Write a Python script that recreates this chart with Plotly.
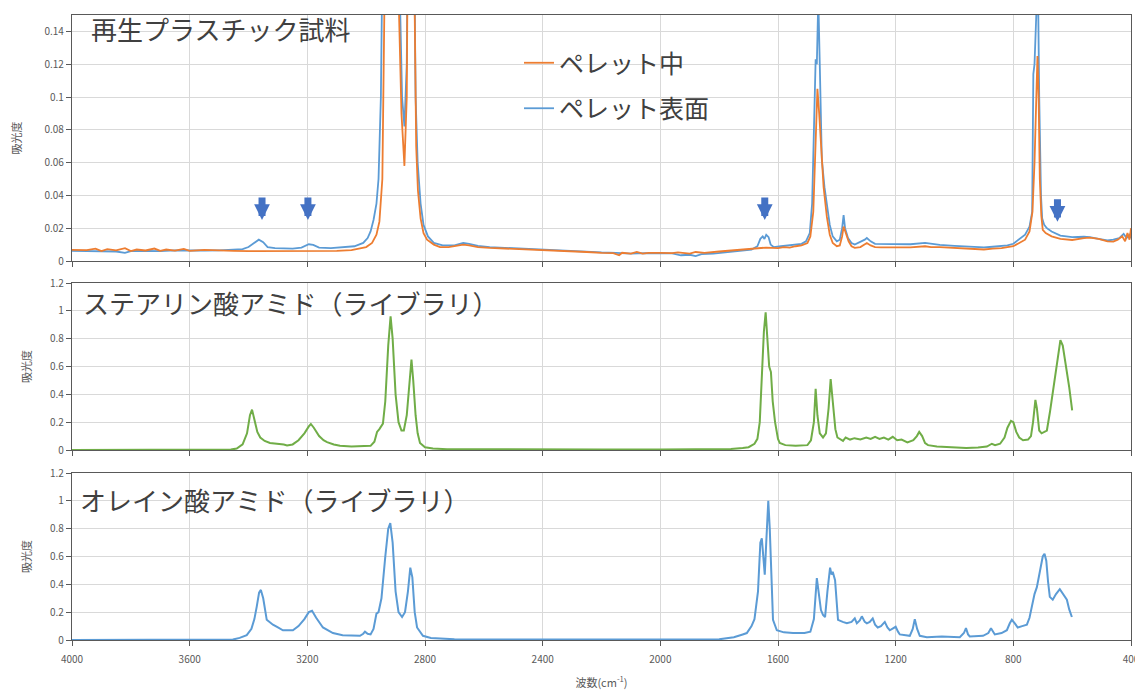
import plotly.graph_objects as go
from plotly.subplots import make_subplots

# ---------------- data (wavenumber cm-1, absorbance) ----------------
orange_wn = [4000, 3950, 3920, 3900, 3880, 3850, 3820, 3800, 3780, 3750, 3720, 3700, 3680, 3650, 3620, 3600,
             3550, 3500, 3450, 3400, 3350, 3300, 3250, 3200, 3150, 3100, 3050, 3020, 3000, 2980, 2965, 2955,
             2945, 2935, 2925, 2910, 2895, 2880, 2870, 2862, 2855, 2848, 2838, 2830, 2824, 2815, 2805, 2793,
             2770, 2749, 2720, 2690, 2670, 2650, 2620, 2580, 2550, 2500, 2450, 2400, 2350, 2300, 2250, 2200,
             2160, 2140, 2130, 2100, 2080, 2060, 2040, 2000, 1960, 1940, 1900, 1880, 1850, 1800, 1760, 1720,
             1700, 1680, 1660, 1640, 1620, 1600, 1580, 1560, 1540, 1520, 1500, 1490, 1480, 1472, 1466, 1460,
             1452, 1445, 1434, 1424, 1414, 1400, 1390, 1382, 1377, 1370, 1360, 1350, 1339, 1320, 1305, 1298,
             1285, 1270, 1250, 1200, 1150, 1100, 1080, 1050, 1000, 960, 930, 900, 870, 840, 820, 800, 780,
             760, 745, 735, 728, 722, 718, 714, 710, 705, 700, 690, 670, 640, 600, 560, 540, 510, 480, 460,
             445, 430, 420, 412, 405, 400]
orange_abs = [0.0068, 0.0066, 0.0075, 0.006, 0.0072, 0.0065, 0.0078, 0.006, 0.007, 0.0064, 0.0076, 0.0062, 0.007,
              0.0063, 0.0074, 0.0062, 0.0068, 0.0063, 0.0062, 0.006, 0.006, 0.006, 0.0058, 0.006, 0.006, 0.0062,
              0.0066, 0.0075, 0.0085, 0.011, 0.016, 0.024, 0.05, 0.2, 0.5, 0.4, 0.2, 0.09, 0.058, 0.1, 0.3, 0.4,
              0.2, 0.07, 0.043, 0.026, 0.017, 0.013, 0.01, 0.0085, 0.0085, 0.0095, 0.01, 0.0095, 0.0085, 0.008,
              0.0078, 0.0075, 0.007, 0.0068, 0.0065, 0.006, 0.0055, 0.005, 0.0048, 0.0035, 0.005, 0.0045, 0.0055,
              0.0045, 0.005, 0.005, 0.0048, 0.0052, 0.0045, 0.0055, 0.005, 0.0058, 0.0065, 0.007, 0.0072, 0.0075,
              0.0078, 0.0082, 0.008, 0.0078, 0.0085, 0.0082, 0.009, 0.0095, 0.011, 0.015, 0.03, 0.08, 0.105, 0.09,
              0.065, 0.045, 0.027, 0.016, 0.011, 0.009, 0.0095, 0.015, 0.021, 0.017, 0.012, 0.009, 0.008, 0.0085,
              0.0105, 0.011, 0.0095, 0.0085, 0.0083, 0.0082, 0.0083, 0.009, 0.0085, 0.0085, 0.008, 0.0078, 0.0072,
              0.007, 0.0075, 0.0078, 0.0085, 0.009, 0.011, 0.013, 0.018, 0.03, 0.06, 0.11, 0.125, 0.1, 0.05, 0.028,
              0.019, 0.017, 0.015, 0.0135, 0.0128, 0.014, 0.0143, 0.0135, 0.012, 0.0118, 0.013, 0.015, 0.012,
              0.017, 0.013, 0.02]

blue_wn = [4000, 3950, 3900, 3850, 3820, 3800, 3750, 3700, 3650, 3600, 3550, 3500, 3450, 3420, 3400, 3385, 3365,
           3350, 3335, 3310, 3280, 3250, 3220, 3195, 3180, 3160, 3120, 3080, 3040, 3010, 2995, 2985, 2975, 2965,
           2958, 2950, 2940, 2925, 2905, 2890, 2878, 2870, 2862, 2852, 2842, 2832, 2825, 2815, 2805, 2790, 2770,
           2740, 2700, 2670, 2650, 2620, 2580, 2500, 2400, 2300, 2200, 2150, 2100, 2050, 2000, 1960, 1930, 1900,
           1880, 1860, 1820, 1790, 1760, 1720, 1690, 1670, 1660, 1652, 1646, 1640, 1632, 1625, 1615, 1590, 1560,
           1540, 1520, 1505, 1492, 1484, 1476, 1472, 1468, 1463, 1458, 1451, 1442, 1434, 1424, 1414, 1400, 1390,
           1382, 1377, 1372, 1362, 1350, 1339, 1320, 1305, 1298, 1285, 1270, 1250, 1200, 1150, 1100, 1080, 1050,
           1000, 960, 930, 900, 870, 840, 820, 800, 780, 760, 745, 736, 732, 728, 722, 717, 712, 706, 702, 695,
           686, 670, 640, 600, 560, 540, 510, 480, 460, 440, 425, 415, 405, 400]
blue_abs = [0.0062, 0.006, 0.0062, 0.0058, 0.005, 0.006, 0.0062, 0.006, 0.0065, 0.0063, 0.0064, 0.0065, 0.0067,
            0.0072, 0.0085, 0.0105, 0.013, 0.0115, 0.0085, 0.0078, 0.0075, 0.0075, 0.0082, 0.0102, 0.0098, 0.0082,
            0.0078, 0.0082, 0.009, 0.011, 0.014, 0.018, 0.025, 0.035, 0.05, 0.1, 0.3, 0.5, 0.4, 0.2, 0.1, 0.082,
            0.12, 0.35, 0.3, 0.1, 0.06, 0.035, 0.022, 0.015, 0.011, 0.0095, 0.0095, 0.011, 0.0105, 0.0092, 0.0085,
            0.0078, 0.0068, 0.006, 0.0052, 0.005, 0.0045, 0.0048, 0.0048, 0.0046, 0.0035, 0.0038, 0.003, 0.0042,
            0.0045, 0.005, 0.0058, 0.0065, 0.007, 0.009, 0.0135, 0.015, 0.0135, 0.016, 0.0145, 0.01, 0.0085, 0.009,
            0.0095, 0.01, 0.0105, 0.012, 0.017, 0.035, 0.1, 0.123, 0.12, 0.16, 0.12, 0.062, 0.045, 0.035, 0.022,
            0.015, 0.012, 0.013, 0.02, 0.028, 0.02, 0.014, 0.011, 0.01, 0.0115, 0.013, 0.014, 0.012, 0.0105,
            0.0105, 0.0102, 0.0102, 0.011, 0.0105, 0.0098, 0.0092, 0.009, 0.0085, 0.0083, 0.0087, 0.009, 0.0095,
            0.0105, 0.013, 0.016, 0.021, 0.03, 0.114, 0.12, 0.15, 0.18, 0.1, 0.04, 0.026, 0.022, 0.02, 0.018,
            0.0155, 0.0145, 0.0148, 0.0145, 0.0135, 0.0125, 0.013, 0.014, 0.0165, 0.014, 0.016, 0.014]

stear_wn = [4000, 3800, 3600, 3480, 3460, 3440, 3420, 3405, 3395, 3388, 3380, 3370, 3360, 3345, 3327, 3300, 3280,
            3269, 3250, 3230, 3210, 3195, 3188, 3178, 3160, 3145, 3133, 3110, 3089, 3050, 3000, 2985, 2972, 2963,
            2955, 2943, 2935, 2925, 2917, 2910, 2900, 2890, 2880, 2872, 2862, 2852, 2846, 2840, 2832, 2825, 2817,
            2800, 2773, 2725, 2600, 2400, 2200, 2000, 1800, 1760, 1720, 1700, 1680, 1670, 1662, 1655, 1648, 1642,
            1636, 1630, 1624, 1618, 1610, 1600, 1594, 1575, 1540, 1500, 1488, 1478, 1472, 1466, 1458, 1447, 1437,
            1428, 1421, 1414, 1405, 1398, 1390, 1379, 1370, 1355, 1340, 1320, 1300, 1285, 1270, 1255, 1240, 1225,
            1210, 1195, 1180, 1160, 1140, 1128, 1120, 1110, 1100, 1090, 1060, 1000, 960, 920, 890, 873, 862, 845,
            830, 820, 808, 800, 790, 780, 767, 750, 740, 733, 725, 720, 712, 704, 695, 686, 675, 665, 652, 640,
            632, 620, 610, 600]
stear_abs = [0, 0, 0, 0, 0.003, 0.01, 0.04, 0.12, 0.25, 0.29, 0.22, 0.13, 0.09, 0.065, 0.05, 0.045, 0.04, 0.033,
             0.04, 0.07, 0.12, 0.17, 0.187, 0.16, 0.1, 0.07, 0.057, 0.04, 0.03, 0.025, 0.025, 0.03, 0.06, 0.13,
             0.15, 0.19, 0.35, 0.75, 0.96, 0.8, 0.4, 0.2, 0.14, 0.14, 0.25, 0.5, 0.65, 0.5, 0.25, 0.12, 0.05, 0.02,
             0.01, 0.006, 0.004, 0.004, 0.003, 0.003, 0.004, 0.008, 0.015, 0.02, 0.045, 0.08, 0.2, 0.5, 0.85, 0.99,
             0.8, 0.6, 0.56, 0.35, 0.2, 0.08, 0.05, 0.035, 0.03, 0.035, 0.07, 0.2, 0.44, 0.25, 0.12, 0.09, 0.12,
             0.3, 0.51, 0.35, 0.15, 0.09, 0.08, 0.065, 0.09, 0.075, 0.085, 0.075, 0.09, 0.08, 0.095, 0.08, 0.09,
             0.075, 0.095, 0.07, 0.075, 0.055, 0.07, 0.1, 0.13, 0.1, 0.05, 0.035, 0.025, 0.02, 0.015, 0.018, 0.025,
             0.045, 0.035, 0.045, 0.09, 0.16, 0.21, 0.2, 0.13, 0.09, 0.07, 0.075, 0.1, 0.2, 0.36, 0.3, 0.14, 0.12,
             0.13, 0.14, 0.28, 0.43, 0.62, 0.79, 0.75, 0.6, 0.45, 0.285]

oleo_wn = [4000, 3600, 3470, 3453, 3430, 3406, 3390, 3380, 3372, 3364, 3358, 3350, 3338, 3317, 3300, 3283, 3249,
           3230, 3210, 3195, 3184, 3170, 3147, 3113, 3080, 3040, 3021, 3010, 3004, 2995, 2985, 2975, 2965, 2958,
           2948, 2935, 2925, 2918, 2910, 2900, 2890, 2878, 2868, 2858, 2850, 2843, 2835, 2827, 2807, 2780, 2749,
           2700, 2500, 2300, 2100, 1900, 1800, 1750, 1720, 1706, 1690, 1680, 1668, 1660, 1655, 1648, 1645, 1640,
           1633, 1628, 1622, 1617, 1604, 1580, 1549, 1510, 1490, 1478, 1468, 1460, 1454, 1447, 1440, 1432, 1423,
           1418, 1414, 1406, 1400, 1396, 1380, 1366, 1350, 1339, 1332, 1322, 1315, 1305, 1298, 1288, 1278, 1270,
           1261, 1250, 1237, 1228, 1220, 1210, 1200, 1192, 1186, 1152, 1142, 1135, 1127, 1118, 1094, 1043, 982,
           968, 961, 954, 948, 903, 885, 876, 868, 863, 840, 822, 812, 805, 795, 785, 770, 754, 745, 737, 728,
           720, 710, 700, 694, 688, 682, 676, 666, 655, 642, 630, 618, 610, 601]
oleo_abs = [0, 0, 0, 0.003, 0.015, 0.035, 0.08, 0.15, 0.24, 0.34, 0.36, 0.3, 0.145, 0.11, 0.09, 0.07, 0.07, 0.1,
            0.15, 0.2, 0.21, 0.16, 0.09, 0.05, 0.035, 0.03, 0.03, 0.045, 0.06, 0.045, 0.04, 0.08, 0.19, 0.2, 0.3,
            0.6, 0.8, 0.84, 0.7, 0.35, 0.2, 0.165, 0.2, 0.35, 0.52, 0.45, 0.2, 0.09, 0.03, 0.015, 0.01, 0.005,
            0.003, 0.002, 0.002, 0.003, 0.005, 0.02, 0.04, 0.05, 0.1, 0.15, 0.35, 0.7, 0.73, 0.5, 0.47, 0.7, 1.0,
            0.8, 0.4, 0.145, 0.07, 0.055, 0.05, 0.05, 0.06, 0.15, 0.445, 0.3, 0.215, 0.18, 0.165, 0.35, 0.52,
            0.47, 0.49, 0.43, 0.25, 0.145, 0.13, 0.12, 0.13, 0.155, 0.12, 0.14, 0.17, 0.13, 0.12, 0.13, 0.155,
            0.11, 0.09, 0.1, 0.13, 0.09, 0.07, 0.08, 0.095, 0.06, 0.04, 0.03, 0.08, 0.15, 0.08, 0.03, 0.02, 0.025,
            0.02, 0.05, 0.085, 0.04, 0.025, 0.03, 0.05, 0.085, 0.05, 0.04, 0.05, 0.07, 0.12, 0.145, 0.12, 0.09,
            0.1, 0.11, 0.16, 0.24, 0.33, 0.38, 0.5, 0.6, 0.62, 0.57, 0.42, 0.31, 0.29, 0.33, 0.365, 0.33, 0.29,
            0.22, 0.165]

# arrows marking the additive bands in the top panel (wavenumber, absorbance at tip)
arrow_wn = [3354, 3198, 1645, 650]
arrow_y = [0.025, 0.025, 0.025, 0.024]

x_ticks = [4000, 3600, 3200, 2800, 2400, 2000, 1600, 1200, 800, 400]
panel_titles = ["再生プラスチック試料", "ステアリン酸アミド（ライブラリ）", "オレイン酸アミド（ライブラリ）"]
series_names = ["ペレット表面", "ペレット中"]

# ---------------- figure ----------------
FONT = "Noto Sans CJK JP"
C_ORANGE = "#ED7D31"
C_BLUE = "#5B9BD5"
C_GREEN = "#70AD47"
GRID = "#D9D9D9"
AXIS = "#595959"

# page body has an 8px margin; work in screen pixels and convert
OFF = 8
W, H = 1135, 682
PL, PR, PT, PB = 72, 1131, 15, 640  # plot-area edges in screen pixels
ML, MR, MT, MB = PL - OFF, W - (PR - OFF), PT - OFF, H - (PB - OFF)
pw = W - ML - MR
ph = H - MT - MB


def px_x(sx):
    return (sx - OFF - ML) / pw


def px_y(sy):
    return (H - MB - (sy - OFF)) / ph


fig = make_subplots(rows=3, cols=1, shared_xaxes=True, vertical_spacing=0.05)

fig.add_trace(go.Scatter(x=blue_wn, y=blue_abs, mode="lines", name=series_names[0],
                         line=dict(color=C_BLUE, width=1.8), legendgroup="b", legendrank=2), row=1, col=1)
fig.add_trace(go.Scatter(x=orange_wn, y=orange_abs, mode="lines", name=series_names[1],
                         line=dict(color=C_ORANGE, width=1.8), legendgroup="a", legendrank=1), row=1, col=1)
fig.add_trace(go.Scatter(x=stear_wn, y=stear_abs, mode="lines", showlegend=False,
                         line=dict(color=C_GREEN, width=2)), row=2, col=1)
fig.add_trace(go.Scatter(x=oleo_wn, y=oleo_abs, mode="lines", showlegend=False,
                         line=dict(color=C_BLUE, width=2)), row=3, col=1)

domains = [[px_y(261), px_y(15)], [px_y(450), px_y(283)], [px_y(640), px_y(473)]]
yranges = [[0, 0.15], [0, 1.2], [0, 1.2]]
ydticks = [0.02, 0.2, 0.2]
ystandoffs = [20, 16, 16]

for i in range(3):
    yname = "yaxis" if i == 0 else f"yaxis{i + 1}"
    xname = "xaxis" if i == 0 else f"xaxis{i + 1}"
    fig.layout[yname].update(
        domain=domains[i], range=yranges[i], dtick=ydticks[i], tick0=0, automargin=False,
        showgrid=True, gridcolor=GRID, gridwidth=1, zeroline=False,
        showline=True, mirror=True, linecolor=AXIS, linewidth=1.3,
        ticks="outside", ticklen=5, tickcolor=AXIS,
        tickfont=dict(family=FONT, size=10, color="#595959"),
        title=dict(text="吸光度", font=dict(family=FONT, size=11, color="#595959"), standoff=ystandoffs[i]),
    )
    fig.layout[xname].update(
        range=[4000, 400], tickvals=x_ticks, showgrid=True, gridcolor=GRID, gridwidth=1,
        zeroline=False, showline=True, mirror=True, linecolor=AXIS, linewidth=1.3, automargin=False,
        ticks="outside", ticklen=5, tickcolor=AXIS,
        tickfont=dict(family=FONT, size=10, color="#595959"),
    )

fig.layout.xaxis3.update(
    showticklabels=True, ticklabelstandoff=5,
    title=dict(text="波数(cm<sup>-1</sup>)", font=dict(family=FONT, size=11, color="#595959"), standoff=14),
)

title_pos = [(89, 28), (81, 302), (78, 499)]
for t, (sx, sy) in zip(panel_titles, title_pos):
    fig.add_annotation(text=t, xref="paper", yref="paper", x=px_x(sx), y=px_y(sy),
                       xanchor="left", yanchor="middle", showarrow=False,
                       font=dict(family=FONT, size=26, color="#404040"))

for xw, yv in zip(arrow_wn, arrow_y):
    fig.add_annotation(x=xw, y=yv, xref="x", yref="y", text="", showarrow=True,
                       ax=0, ay=-24, arrowhead=2, arrowsize=0.45, arrowwidth=7,
                       arrowcolor="#4472C4", standoff=0)

fig.update_layout(
    width=W, height=H,
    margin=dict(l=ML, r=MR, t=MT, b=MB, autoexpand=False),
    paper_bgcolor="white", plot_bgcolor="white",
    font=dict(family=FONT, color="#404040"),
    showlegend=True,
    legend=dict(x=px_x(519), y=px_y(40), xanchor="left", yanchor="top",
                traceorder="grouped", tracegroupgap=10, bgcolor="rgba(0,0,0,0)",
                font=dict(family=FONT, size=25, color="#404040")),
)

fig.write_html("out.html")
